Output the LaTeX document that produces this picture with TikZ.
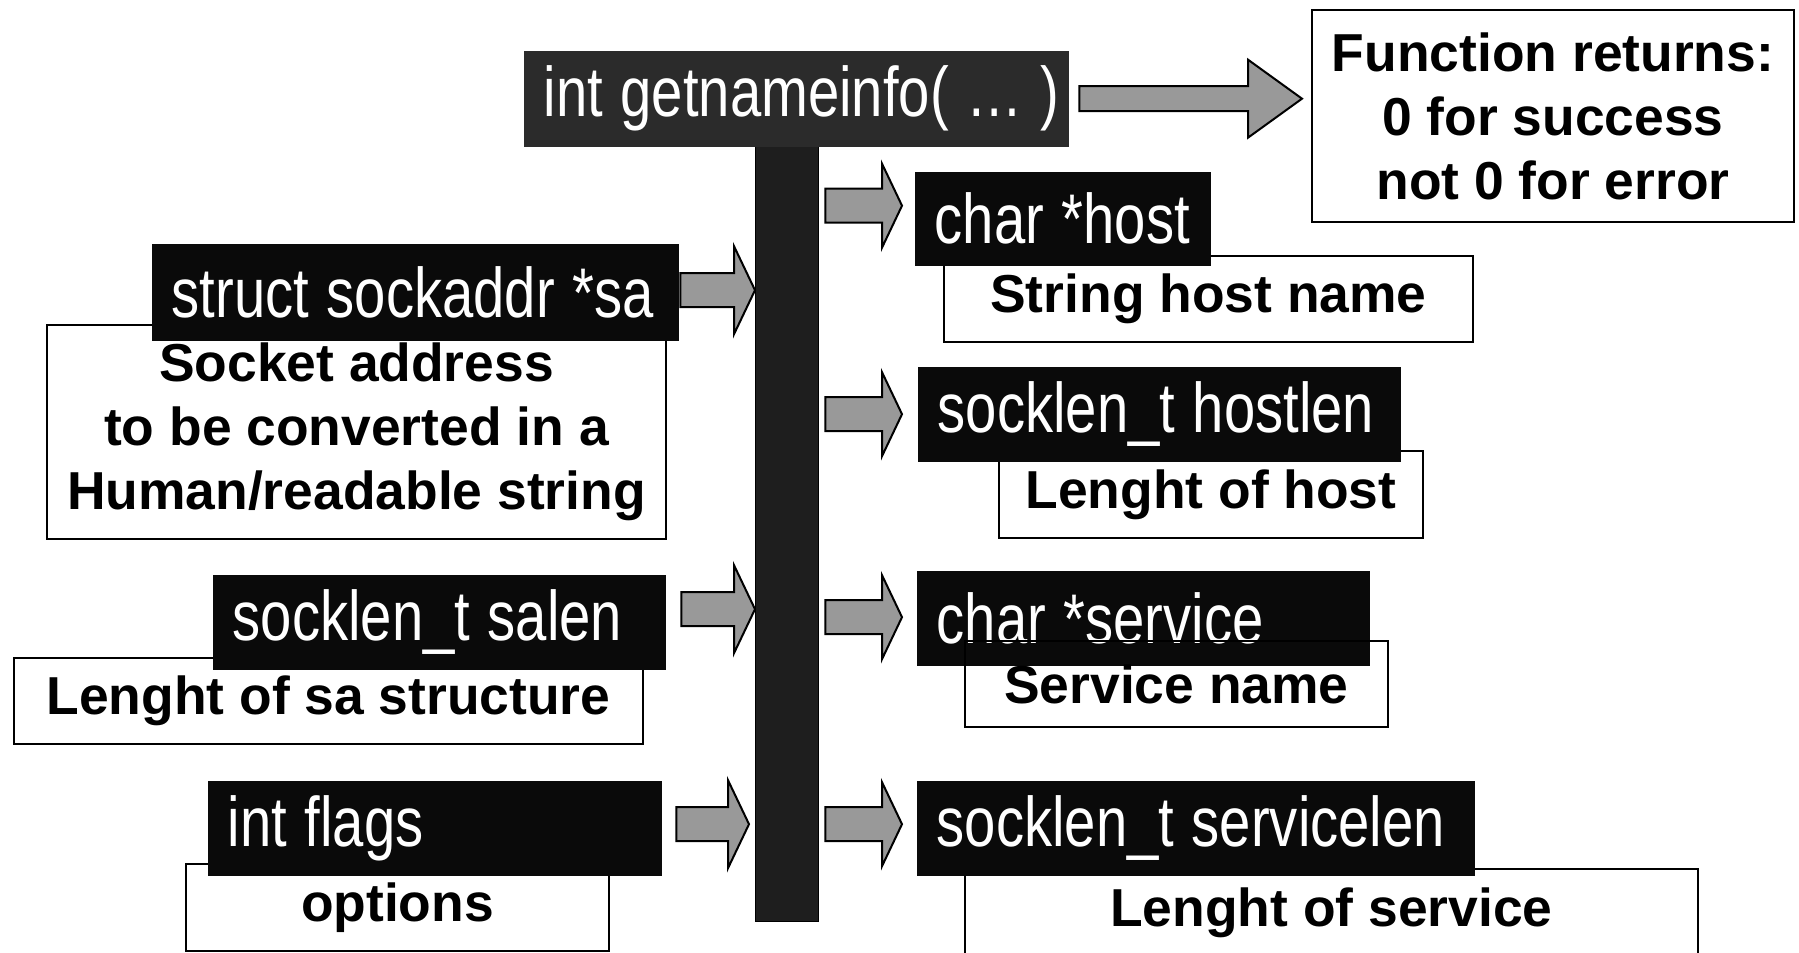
\documentclass[tikz,border=0pt]{standalone}
\usepackage{fontspec}
\setmainfont{Liberation Sans}
\newfontfamily\narrowfont[FakeStretch=0.8]{Liberation Sans}
\usetikzlibrary{calc}

\definecolor{titlegray}{HTML}{2B2B2B}
\definecolor{parblack}{HTML}{0A0A0A}
\definecolor{bargray}{HTML}{1E1E1E}
\definecolor{arrowgray}{HTML}{999999}

\begin{document}
\begin{tikzpicture}[x=0.1mm, y=-0.1mm,
		param/.style={fill=parblack, text=white, anchor=north west, align=left,
			inner xsep=2mm, inner ysep=0pt, minimum height=9.5mm,
			execute at begin node={\spaceskip=0.25em\relax\hbox\bgroup}, execute at end node=\egroup,
			font=\narrowfont\fontsize{20}{22}\selectfont},
		desc/.style={draw, fill=white, line width=0.2mm, anchor=north west, align=center,
			inner sep=0pt, font=\bfseries\fontsize{15.2}{18.2}\selectfont},
		fat/.style n args={3}{fill=arrowgray, draw=black, line width=0.2mm,
			to path={let \p1=(\tikztostart), \p2=(\tikztotarget) in
				(\x1,\y1+#1) -- (\x2-#3,\y1+#1) -- (\x2-#3,\y1+#2) -- (\x2,\y1)
				-- (\x2-#3,\y1-#2) -- (\x2-#3,\y1-#1) -- (\x1,\y1-#1) -- cycle}}]
				\useasboundingbox (0,0) rectangle (1799,953);

				\node[draw, fill=bargray, anchor=north west, inner sep=0pt,
					minimum width=6.3mm, minimum height=77.5mm] (bar) at (755,146) {};

				% what each argument means
				\node[desc, minimum width=61.9mm, minimum height=21.4mm] (sad) at (46,324) {Socket address\\to be converted in a\\Human/readable string};
				\node[desc, minimum width=62.9mm, minimum height=8.6mm] (salend) at (13,657) {Lenght of sa structure};
				\node[desc, minimum width=42.3mm, minimum height=8.7mm] (flagsd) at (185,863) {options};
				\node[desc, minimum width=52.9mm, minimum height=8.6mm] (hostd) at (943,255) {String host name};
				\node[desc, minimum width=42.4mm, minimum height=8.7mm] (hostlend) at (998,450) {Lenght of host};
				\node[desc, minimum width=73.3mm, minimum height=8.8mm] (servicelend) at (964,868) {Lenght of service};

				% the call and its arguments
				\node[param, fill=titlegray, text width=50.5mm, minimum height=9.6mm] (title) at (523,50) {int getnameinfo( … )};
				\node[param, text width=48.7mm, minimum height=9.7mm] (sa) at (151,243) {struct sockaddr *sa};
				\node[param, text width=41.3mm] (salen) at (212,574) {socklen\_t salen};
				\node[param, text width=41.4mm] (flags) at (207,780) {int flags};
				\node[param, text width=25.6mm, minimum height=9.4mm] (host) at (914,171) {char *host};
				\node[param, text width=44.3mm] (hostlen) at (917,366) {socklen\_t hostlen};
				\node[param, text width=41.3mm] (service) at (916,570) {char *service};
				\node[param, text width=51.8mm] (servicelen) at (916,780) {socklen\_t servicelen};
				\node[desc, fill=none, minimum width=42.3mm, minimum height=8.6mm] (serviced) at (964,640) {Service name};

				\node[desc, minimum width=48.2mm, minimum height=21.2mm] (ret) at (1311,9) {Function returns:\\0 for success\\not 0 for error};

				\draw[fat={1.25mm}{3.9mm}{5.4mm}] ([xshift=1mm]title.east) to ([xshift=-0.9mm]ret.west);
				\draw[fat={1.7mm}{4.4mm}{2.1mm}] ($(sa.east)+(1,-2)$) to (bar.west);
				\draw[fat={1.7mm}{4.4mm}{2.1mm}] ($(salen.east)+(15,-13)$) to (bar.west);
				\draw[fat={1.7mm}{4.4mm}{2.1mm}] ($(flags.east)+(14,-4)$) to ($(bar.west)+(-6,0)$);
				\draw[fat={1.7mm}{4.2mm}{2mm}] ($(bar.east |- host.west)+(6,-13)$) to ($(host.west)+(-12,0)$);
				\draw[fat={1.7mm}{4.2mm}{2mm}] ($(bar.east |- hostlen.west)+(6,0)$) to ($(hostlen.west)+(-15,0)$);
				\draw[fat={1.7mm}{4.2mm}{2mm}] ($(bar.east |- service.west)+(6,-1)$) to ($(service.west)+(-14,0)$);
				\draw[fat={1.7mm}{4.2mm}{2mm}] ($(bar.east |- servicelen.west)+(6,-4)$) to ($(servicelen.west)+(-14,0)$);
			\end{tikzpicture}
\end{document}
